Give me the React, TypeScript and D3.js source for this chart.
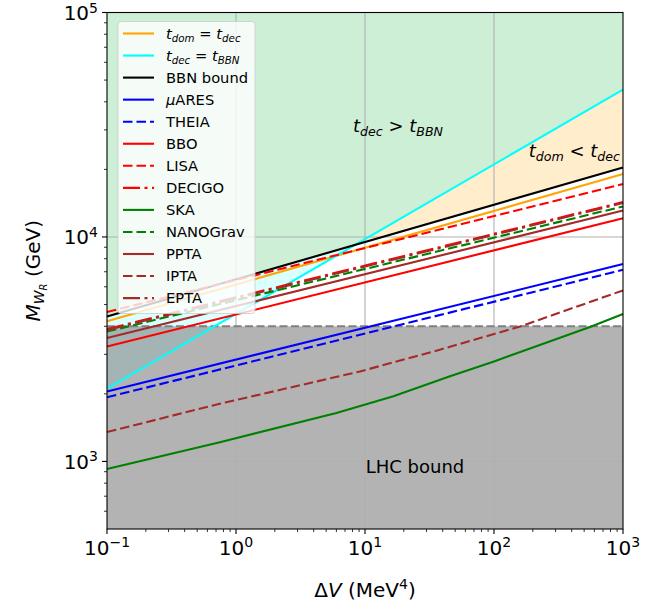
import React from 'react'
import * as d3 from 'd3'

// points: [ΔV (MeV^4), M_WR (GeV)]
const tDomEqDec = [[0.1, 4210], [1000, 19060]]
const tDecEqBBN = [[0.1, 2110], [1000, 45300]]
const bbnBound = [[0.1, 4420], [1000, 20400]]
const muAres = [[0.1, 2050], [1000, 7570]]
const theia = [[0.1, 1930], [1000, 7140]]
const bbo = [[0.1, 3250], [1000, 12110]]
const lisa = [[0.1, 4630], [1000, 17200]]
const decigo = [[0.1, 3890], [1000, 14300]]
const ska = [[0.1, 925], [0.75, 1217], [6, 1644], [16.6, 1950], [45, 2390], [100, 2790], [555, 3970], [1000, 4540]]
const nanograv = [[0.1, 3790], [1000, 13680]]
const ppta = [[0.1, 3550], [1000, 13130]]
const ipta = [[0.1, 1352], [0.75, 1807], [9.15, 2517], [38, 3145], [159, 3990], [1000, 5780]]
const epta = [[0.1, 3850], [1000, 14160]]

const lhcBound = 4000
const xDomain = [0.1, 1000]
const yDomain = [500, 1e5]
const xMajor = [0.1, 1, 10, 100, 1000]
const xExp = ['\u22121', '0', '1', '2', '3']
const yMajor = [1e3, 1e4, 1e5]
const yExp = ['3', '4', '5']

const W = 670
const H = 605
const P = { left: 107, right: 623, top: 12.5, bottom: 529 }
const FONT = 'DejaVu Sans, sans-serif'

const DASH = '9.5,4'
const DASHDOT = '17,4.5,3,4.5'

const series = [
  { key: 'tdomdec', data: tDomEqDec, color: '#ffa500', dash: null },
  { key: 'tdecbbn', data: tDecEqBBN, color: '#00ffff', dash: null },
  { key: 'BBN bound', data: bbnBound, color: '#000000', dash: null },
  { key: 'muares', data: muAres, color: '#0000ff', dash: null },
  { key: 'THEIA', data: theia, color: '#0000ff', dash: DASH },
  { key: 'BBO', data: bbo, color: '#ff0000', dash: null },
  { key: 'LISA', data: lisa, color: '#ff0000', dash: DASH },
  { key: 'DECIGO', data: decigo, color: '#ff0000', dash: DASHDOT },
  { key: 'SKA', data: ska, color: '#008000', dash: null },
  { key: 'NANOGrav', data: nanograv, color: '#008000', dash: DASH },
  { key: 'PPTA', data: ppta, color: '#a52a2a', dash: null },
  { key: 'IPTA', data: ipta, color: '#a52a2a', dash: DASH },
  { key: 'EPTA', data: epta, color: '#a52a2a', dash: DASHDOT },
]

// value of a polyline (straight in log-log) at xv
function atX(pts, xv) {
  const u = Math.log10(xv)
  for (let i = 0; i < pts.length - 1; i++) {
    const u0 = Math.log10(pts[i][0]), u1 = Math.log10(pts[i + 1][0])
    if (u >= u0 && u <= u1) {
      const t = (u - u0) / (u1 - u0)
      return Math.pow(10, Math.log10(pts[i][1]) * (1 - t) + Math.log10(pts[i + 1][1]) * t)
    }
  }
  return pts[pts.length - 1][1]
}

function Label({ k, size }) {
  const s = size * 0.7
  const d = size * 0.22
  const it = { fontStyle: 'italic' as const }
  if (k === 'tdomdec' || k === 'tdecbbn') {
    const a = k === 'tdomdec' ? 'dom' : 'dec'
    const b = k === 'tdomdec' ? 'dec' : 'BBN'
    return (
      <>
        <tspan {...it}>t</tspan>
        <tspan {...it} fontSize={s} dy={d}>{a}</tspan>
        <tspan dy={-d}>{' = '}</tspan>
        <tspan {...it}>t</tspan>
        <tspan {...it} fontSize={s} dy={d}>{b}</tspan>
      </>
    )
  }
  if (k === 'muares') {
    return (
      <>
        <tspan {...it}>μ</tspan>
        <tspan>ARES</tspan>
      </>
    )
  }
  return <tspan>{k}</tspan>
}

export default function App() {
  const x = d3.scaleLog().domain(xDomain).range([P.left, P.right])
  const y = d3.scaleLog().domain(yDomain).range([P.bottom, P.top])
  const line = d3.line().x((d) => x(d[0])).y((d) => y(d[1]))

  // crossing of BBN bound and t_dec = t_BBN
  const f0 = Math.log10(bbnBound[0][1]) - Math.log10(tDecEqBBN[0][1])
  const f1 = Math.log10(bbnBound[1][1]) - Math.log10(tDecEqBBN[1][1])
  const u0 = Math.log10(xDomain[0]), u1 = Math.log10(xDomain[1])
  const xc = Math.pow(10, u0 + (f0 / (f0 - f1)) * (u1 - u0))
  const yc = atX(bbnBound, xc)

  const greenPoly = [
    [xDomain[0], yDomain[1]], [xDomain[1], yDomain[1]],
    [xDomain[1], atX(tDecEqBBN, xDomain[1])], [xc, yc],
    [xDomain[0], atX(bbnBound, xDomain[0])],
  ]
  const orangePoly = [[xc, yc], [xDomain[1], atX(tDecEqBBN, xDomain[1])], [xDomain[1], atX(bbnBound, xDomain[1])]]
  const cyanPoly = [[xDomain[0], atX(bbnBound, xDomain[0])], [xc, yc], [xDomain[0], atX(tDecEqBBN, xDomain[0])]]

  const xMinor = []
  for (let e = -1; e < 3; e++) for (let m = 2; m < 10; m++) xMinor.push(m * Math.pow(10, e))
  const yMinor = []
  for (let e = 2; e < 5; e++) for (let m = 2; m < 10; m++) {
    const v = m * Math.pow(10, e)
    if (v > yDomain[0] && v < yDomain[1]) yMinor.push(v)
  }

  const legX = 118, legY = 21.5, legW = 137, legH = 292
  const rowY = (i) => 33.5 + i * 22.05

  return (
    <svg width={W} height={H} style={{ display: 'block', position: 'absolute', left: 0, top: 0 }} fontFamily={FONT}>
      <rect width={W} height={H} fill="#fff" />
      {/* regions */}
      <path d={line(greenPoly) + 'Z'} fill="#cdefd6" />
      <path d={line(orangePoly) + 'Z'} fill="#ffedcc" />
      <path d={line(cyanPoly) + 'Z'} fill="#00ffff" fillOpacity={0.15} />
      <rect x={P.left} y={y(lhcBound)} width={P.right - P.left} height={P.bottom - y(lhcBound)} fill="#808080" fillOpacity={0.6} />

      {/* grid */}
      {xMajor.slice(1, -1).map((v) => (
        <line key={'gx' + v} x1={x(v)} x2={x(v)} y1={P.top} y2={P.bottom} stroke="#b0b0b0" strokeWidth={1.1} />
      ))}
      {yMajor.slice(0, -1).map((v) => (
        <line key={'gy' + v} x1={P.left} x2={P.right} y1={y(v)} y2={y(v)} stroke="#b0b0b0" strokeWidth={1.1} />
      ))}

      <line x1={P.left} x2={P.right} y1={y(lhcBound)} y2={y(lhcBound)} stroke="#808080" strokeWidth={2} strokeDasharray="8,3.5" />

      {/* curves */}
      {series.map((s) => (
        <path key={s.key} d={line(s.data)} fill="none" stroke={s.color} strokeWidth={2.1}
          strokeDasharray={s.dash || undefined} />
      ))}

      {/* region labels */}
      <text x={353} y={131.5} fontSize={18}>
        <tspan fontStyle="italic">t</tspan>
        <tspan fontStyle="italic" fontSize={12.6} dy={4}>dec</tspan>
        <tspan dy={-4}>{' > '}</tspan>
        <tspan fontStyle="italic">t</tspan>
        <tspan fontStyle="italic" fontSize={12.6} dy={4}>BBN</tspan>
      </text>
      <text x={620} y={157} fontSize={18} textAnchor="end">
        <tspan fontStyle="italic">t</tspan>
        <tspan fontStyle="italic" fontSize={12.6} dy={4}>dom</tspan>
        <tspan dy={-4}>{' < '}</tspan>
        <tspan fontStyle="italic">t</tspan>
        <tspan fontStyle="italic" fontSize={12.6} dy={4}>dec</tspan>
      </text>
      <text x={415} y={473} fontSize={18} textAnchor="middle">LHC bound</text>

      {/* legend */}
      <rect x={legX} y={legY} width={legW} height={legH} rx={3} fill="#fff" fillOpacity={0.8} stroke="#cccccc" strokeOpacity={0.8} />
      {series.map((s, i) => (
        <g key={'leg' + s.key}>
          <line x1={123} x2={154} y1={rowY(i)} y2={rowY(i)} stroke={s.color} strokeWidth={2.1}
            strokeDasharray={s.dash || undefined} />
          <text x={166} y={rowY(i) + 5.3} fontSize={14.7}>
            <Label k={s.key} size={14.7} />
          </text>
        </g>
      ))}

      {/* frame */}
      <rect x={P.left} y={P.top} width={P.right - P.left} height={P.bottom - P.top} fill="none" stroke="#000" strokeWidth={1.1} />

      {/* x ticks */}
      {xMajor.map((v, i) => (
        <g key={'xt' + v}>
          <line x1={x(v)} x2={x(v)} y1={P.bottom} y2={P.bottom + 5} stroke="#000" strokeWidth={1.1} />
          <text x={x(v)} y={555} fontSize={20} textAnchor="middle">
            10<tspan fontSize={14} dy={-8}>{xExp[i]}</tspan>
          </text>
        </g>
      ))}
      {xMinor.map((v) => (
        <line key={'xm' + v} x1={x(v)} x2={x(v)} y1={P.bottom} y2={P.bottom + 3} stroke="#000" strokeWidth={0.8} />
      ))}
      {/* y ticks */}
      {yMajor.map((v, i) => (
        <g key={'yt' + v}>
          <line x1={P.left - 5} x2={P.left} y1={y(v)} y2={y(v)} stroke="#000" strokeWidth={1.1} />
          <text x={98} y={y(v) + 7.5} fontSize={20} textAnchor="end">
            10<tspan fontSize={14} dy={-7.5}>{yExp[i]}</tspan>
          </text>
        </g>
      ))}
      {yMinor.map((v) => (
        <line key={'ym' + v} x1={P.left - 3} x2={P.left} y1={y(v)} y2={y(v)} stroke="#000" strokeWidth={0.8} />
      ))}

      {/* axis labels */}
      <text x={(P.left + P.right) / 2} y={597} fontSize={20} textAnchor="middle">
        <tspan>Δ</tspan>
        <tspan fontStyle="italic">V</tspan>
        <tspan>{' (MeV'}</tspan>
        <tspan fontSize={14} dy={-8}>4</tspan>
        <tspan dy={8}>)</tspan>
      </text>
      <text transform={`translate(40,${(P.top + P.bottom) / 2}) rotate(-90)`} fontSize={20} textAnchor="middle">
        <tspan fontStyle="italic">M</tspan>
        <tspan fontStyle="italic" fontSize={14} dy={4}>W</tspan>
        <tspan fontStyle="italic" fontSize={10} dy={3}>R</tspan>
        <tspan dy={-7}>{'  (GeV)'}</tspan>
      </text>
    </svg>
  )
}
